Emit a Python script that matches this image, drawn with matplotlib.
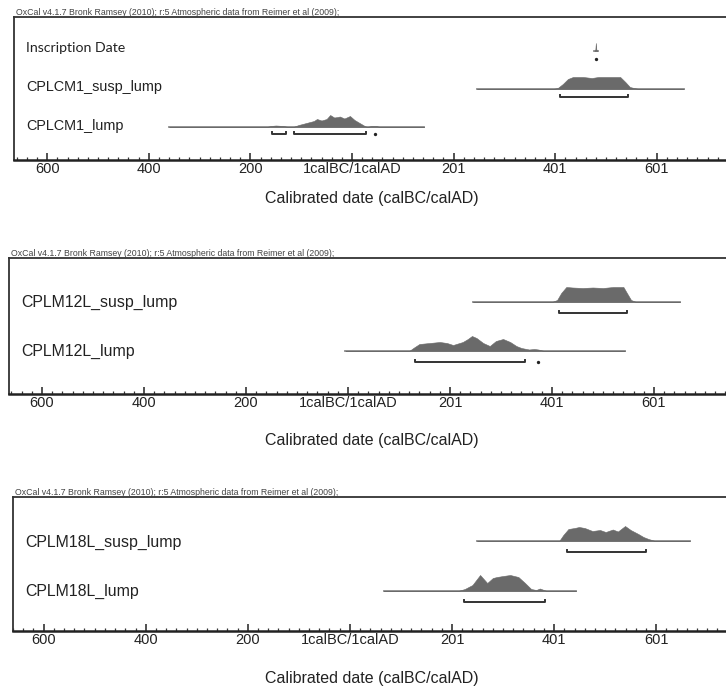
import matplotlib.pyplot as plt

plt.rcParams['font.family'] = ['Liberation Sans', 'DejaVu Sans']

header = 'OxCal v4.1.7 Bronk Ramsey (2010); r:5 Atmospheric data from Reimer et al (2009);'
xlabel = 'Calibrated date (calBC/calAD)'
tick_pos = [-600, -400, -200, 0, 200, 400, 600]
tick_lab = ['600', '400', '200', '1calBC/1calAD', '201', '401', '601']

# panel 1 ------------------------------------------------------------
insc_x = [477, 479, 480, 481, 483]
insc_h = [0, 1.5, 8, 1.5, 0]
insc_span = [476, 484]
insc_rng = [(480, 480)]

cm1s_x = [246, 395, 405, 415, 425, 435, 455, 472, 485, 528, 538, 547, 555, 565, 653]
cm1s_h = [0, 0, 1, 5, 10, 12, 12, 11, 12, 12, 7, 2, 1, 0, 0]
cm1s_span = [246, 653]
cm1s_rng = [(410, 543)]

cm1_x = [-360, -168, -160, -150, -135, -125, -116, -105, -90, -75, -69, -60, -50, -43,
         -35, -28, -24, -15, -4, 5, 15, 25, 30, 38, 48, 55, 142]
cm1_h = [0, 0, 1, 1.5, 1, 0, 0, 2, 4, 6, 8, 6.5, 8, 12,
         9.5, 10, 10.5, 8.5, 11, 7, 4, 1, 0, 1, 1, 0, 0]
cm1_span = [-360, 142]
cm1_rng = [(-157, -130), (-114, 28), (45, 45)]

# panel 2 ------------------------------------------------------------
m12s_x = [245, 400, 410, 418, 428, 440, 460, 480, 500, 520, 540, 548, 555, 565, 651]
m12s_h = [0, 0, 2, 9, 15, 14.5, 14, 14.5, 14, 15, 15, 8, 2, 0, 0]
m12s_span = [245, 651]
m12s_rng = [(414, 547)]

m12_x = [-5, 120, 128, 140, 160, 180, 194, 206, 225, 235, 243, 252, 265, 278,
         290, 304, 318, 330, 340, 355, 365, 373, 385, 543]
m12_h = [0, 0, 3, 7, 8, 9, 8, 6, 9, 12, 15, 13, 8, 5,
         10, 12, 9, 5, 3, 1.5, 2, 1.5, 0, 0]
m12_span = [-5, 543]
m12_rng = [(131, 347), (373, 373)]

# panel 3 ------------------------------------------------------------
m18s_x = [249, 410, 418, 428, 440, 449, 460, 475, 490, 501, 515, 525, 539, 550,
          565, 575, 585, 598, 666]
m18s_h = [0, 0, 6, 12, 13, 14, 13, 10, 11, 9, 11.5, 9.5, 15, 11,
          7, 4, 2, 0, 0]
m18s_span = [249, 666]
m18s_rng = [(426, 580)]

m18_x = [66, 212, 225, 240, 255, 262, 269, 280, 288, 300, 314, 330, 343, 355,
         365, 372, 380, 386, 443]
m18_h = [0, 0, 2, 6, 16, 12, 8, 13, 14, 15, 16, 14, 8, 2,
         1, 2.5, 1, 0, 0]
m18_span = [66, 443]
m18_rng = [(224, 382)]

# layout in pixels: frame left, frame top, axis line y, year 0 x, px per year
panels = [
    dict(left=14, top=17, axis=160, x0=352, k=0.508, xl=198,
         rows=[('Inscription Date', insc_x, insc_h, insc_span, insc_rng, 34, -3, 8),
               ('CPLCM1_susp_lump', cm1s_x, cm1s_h, cm1s_span, cm1s_rng, 72, -2, 8),
               ('CPLCM1_lump', cm1_x, cm1_h, cm1_span, cm1_rng, 110, -1, 7)],
         fs=10.4),
    dict(left=9, top=258, axis=394, x0=348, k=0.51, xl=440,
         rows=[('CPLM12L_susp_lump', m12s_x, m12s_h, m12s_span, m12s_rng, 44, 0, 11),
               ('CPLM12L_lump', m12_x, m12_h, m12_span, m12_rng, 93, 0, 11)],
         fs=11.4),
    dict(left=13, top=497, axis=631, x0=349.5, k=0.511, xl=678,
         rows=[('CPLM18L_susp_lump', m18s_x, m18s_h, m18s_span, m18s_rng, 44, 1, 11),
               ('CPLM18L_lump', m18_x, m18_h, m18_span, m18_rng, 94, 0, 11)],
         fs=11.4),
]

W, H = 726, 693
fig = plt.figure(figsize=(W / 100, H / 100), dpi=100)

for p in panels:
    right = 742
    h = p['axis'] - p['top']
    ax = fig.add_axes([p['left'] / W, 1 - p['axis'] / H, (right - p['left']) / W, h / H])
    ax.set_xlim((p['left'] - p['x0']) / p['k'], (right - p['x0']) / p['k'])
    ax.set_ylim(h, 0)

    for name, xs, hs, span, rng, base, loff, boff in p['rows']:
        ax.plot(span, [base, base], color='#8a8a8a', lw=1.3, zorder=2)
        ax.fill_between(xs, [base] * len(xs), [base - v for v in hs],
                        color='#6a6a6a', lw=0.4, edgecolor='#6a6a6a', zorder=3)
        by = base + boff
        for a, b in rng:
            if a == b:
                ax.plot([a], [by], 'o', ms=2.4, color='#222222', mew=0, zorder=3)
            else:
                ax.plot([a, a, b, b], [by - 2, by, by, by - 2], color='#333333',
                        lw=1.4, zorder=3)
        fam = ['Lato', 'DejaVu Sans'] if name == 'Inscription Date' else None
        ax.text(12 / (right - p['left']), 1 - (base + loff) / h, name,
                transform=ax.transAxes, va='center', ha='left',
                fontsize=p['fs'] if fam is None else 10.2, color='#222222',
                family=fam)

    ax.set_xticks(tick_pos)
    ax.set_xticklabels(tick_lab)
    ax.set_xticks(range(-660, 761, 20), minor=True)
    ax.set_yticks([])
    ax.tick_params(axis='x', which='major', direction='in', length=5, width=1.1,
                   pad=1.5, labelsize=10.5, colors='#222222')
    ax.tick_params(axis='x', which='minor', direction='in', length=2.5, width=0.9,
                   colors='#333333')
    for s in ['left', 'top', 'right']:
        ax.spines[s].set_linewidth(1.3)
        ax.spines[s].set_color('#333333')
    ax.spines['bottom'].set_linewidth(1.8)
    ax.spines['bottom'].set_color('#222222')

    fig.text(p['left'] / W + 0.003, 1 - (p['top'] - 4.5) / H, header, fontsize=6.3,
             color='#444444', va='center', ha='left')
    fig.text(372 / W, 1 - p['xl'] / H, xlabel, fontsize=11.5, color='#222222',
             ha='center', va='center')

fig.savefig('out.png', dpi=100)
